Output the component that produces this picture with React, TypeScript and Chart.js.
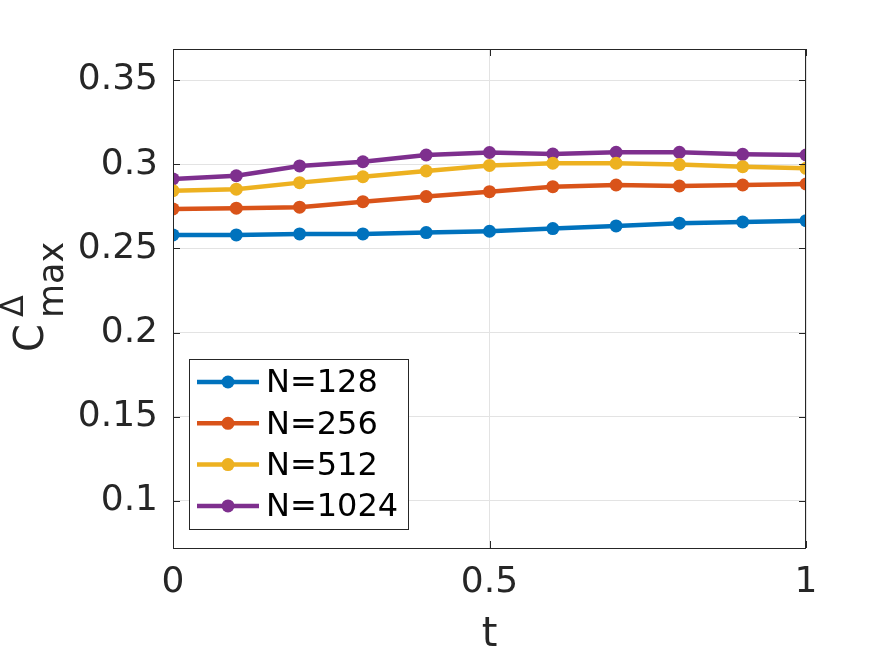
import { useEffect, useRef } from 'react';
import Chart from 'chart.js/auto';
import React from 'react';

const tValues = [0, 0.1, 0.2, 0.3, 0.4, 0.5, 0.6, 0.7, 0.8, 0.9, 1];
const n128 = [0.258, 0.258, 0.2586, 0.2586, 0.2594, 0.2602, 0.2618, 0.2634, 0.265, 0.2657, 0.2665];
const n256 = [0.2735, 0.2739, 0.2745, 0.2778, 0.2808, 0.2837, 0.2867, 0.2877, 0.2871, 0.2877, 0.2883];
const n512 = [0.2843, 0.2852, 0.2891, 0.2926, 0.296, 0.2993, 0.3006, 0.3006, 0.2998, 0.2986, 0.2976];
const n1024 = [0.2913, 0.2932, 0.299, 0.3015, 0.3055, 0.307, 0.3061, 0.3071, 0.3071, 0.3059, 0.3055];

const seriesLabels = ['N=128', 'N=256', 'N=512', 'N=1024'];
const seriesColors = ['#0072BD', '#D95319', '#EDB120', '#7E2F8E'];
const xTicks = [0, 0.5, 1];
const yTicks = [0.1, 0.15, 0.2, 0.25, 0.3, 0.35];

const FONT = '"DejaVu Sans", sans-serif';
const AXIS = '#262626';

// frame, inward ticks, legend box and axis labels
const decorations = {
  id: 'decorations',
  afterDatasetsDraw(chart: any) {
    const { ctx, chartArea: a, scales } = chart;
    ctx.save();
    ctx.strokeStyle = AXIS;
    ctx.lineWidth = 1;
    ctx.strokeRect(a.left + 0.5, a.top + 0.5, a.right - a.left - 1, a.bottom - a.top);
    ctx.beginPath();
    for (const v of xTicks) {
      const px = Math.round(scales.x.getPixelForValue(v)) + 0.5;
      ctx.moveTo(px, a.bottom); ctx.lineTo(px, a.bottom - 7);
      ctx.moveTo(px, a.top); ctx.lineTo(px, a.top + 7);
    }
    for (const v of yTicks) {
      const py = Math.round(scales.y.getPixelForValue(v)) + 0.5;
      ctx.moveTo(a.left, py); ctx.lineTo(a.left + 7, py);
      ctx.moveTo(a.right, py); ctx.lineTo(a.right - 7, py);
    }
    ctx.stroke();

    // legend
    const bx = 189, by = 359, bw = 219, bh = 170;
    ctx.fillStyle = '#fff';
    ctx.fillRect(bx, by, bw, bh);
    ctx.strokeStyle = AXIS;
    ctx.strokeRect(bx + 0.5, by + 0.5, bw, bh);
    ctx.font = `32px ${FONT}`;
    ctx.textBaseline = 'middle';
    seriesLabels.forEach((lbl, i) => {
      const cy = 382 + i * 41.3;
      ctx.strokeStyle = seriesColors[i];
      ctx.lineWidth = 4.5;
      ctx.beginPath();
      ctx.moveTo(197, cy); ctx.lineTo(259, cy);
      ctx.stroke();
      ctx.fillStyle = seriesColors[i];
      ctx.beginPath();
      ctx.arc(228, cy, 6.5, 0, Math.PI * 2);
      ctx.fill();
      ctx.fillStyle = '#000';
      ctx.fillText(lbl, 266, cy + 2);
    });

    // x label
    ctx.fillStyle = AXIS;
    ctx.textBaseline = 'alphabetic';
    ctx.textAlign = 'center';
    ctx.font = `40px ${FONT}`;
    ctx.fillText('t', (a.left + a.right) / 2, 646);

    // y label C^Δ_max
    ctx.translate(43, 352);
    ctx.rotate(-Math.PI / 2);
    ctx.textAlign = 'left';
    ctx.font = `40px ${FONT}`;
    ctx.fillText('C', 0, 0);
    ctx.font = `32px ${FONT}`;
    ctx.fillText('Δ', 35, -20);
    ctx.font = `35px ${FONT}`;
    ctx.fillText('max', 34, 20);
    ctx.restore();
  },
};

const App: React.FC = () => {
  const canvasRef = useRef<HTMLCanvasElement>(null);

  useEffect(() => {
    if (!canvasRef.current) return;
    const seriesValues = [n128, n256, n512, n1024];
    const chart = new Chart(canvasRef.current, {
      type: 'line',
      data: {
        datasets: seriesValues.map((vals, i) => ({
          label: seriesLabels[i],
          data: vals.map((y, j) => ({ x: tValues[j], y })),
          borderColor: seriesColors[i],
          backgroundColor: seriesColors[i],
          borderWidth: 4.5,
          pointRadius: 6.5,
          pointBorderWidth: 0,
          pointBackgroundColor: seriesColors[i],
          tension: 0,
        })),
      },
      options: {
        responsive: false,
        animation: false,
        layout: { padding: { top: 49, right: 85, left: 0, bottom: 0 } },
        plugins: { legend: { display: false }, tooltip: { enabled: false } },
        scales: {
          x: {
            type: 'linear',
            min: 0,
            max: 1,
            afterBuildTicks: (s: any) => { s.ticks = xTicks.map((v) => ({ value: v })); },
            afterFit: (s: any) => { s.height = 108; },
            ticks: {
              callback: (v: any) => String(v),
              font: { family: FONT, size: 36 },
              color: AXIS,
              padding: 13,
              maxRotation: 0,
            },
            grid: { color: '#e3e3e3', drawTicks: false },
            border: { display: false },
          },
          y: {
            type: 'linear',
            min: 0.072,
            max: 0.3685,
            afterBuildTicks: (s: any) => { s.ticks = yTicks.map((v) => ({ value: v })); },
            afterFit: (s: any) => { s.width = 173; },
            ticks: {
              callback: (v: any) => String(+Number(v).toFixed(2)),
              font: { family: FONT, size: 36 },
              color: AXIS,
              padding: 15,
            },
            grid: { color: '#e3e3e3', drawTicks: false },
            border: { display: false },
          },
        },
      },
      plugins: [decorations],
    });
    return () => chart.destroy();
  }, []);

  return (
    <div style={{ position: 'absolute', left: 0, top: 0, width: 891, height: 656, background: '#fff' }}>
      <canvas ref={canvasRef} width={891} height={656}></canvas>
    </div>
  );
};

export default App;
